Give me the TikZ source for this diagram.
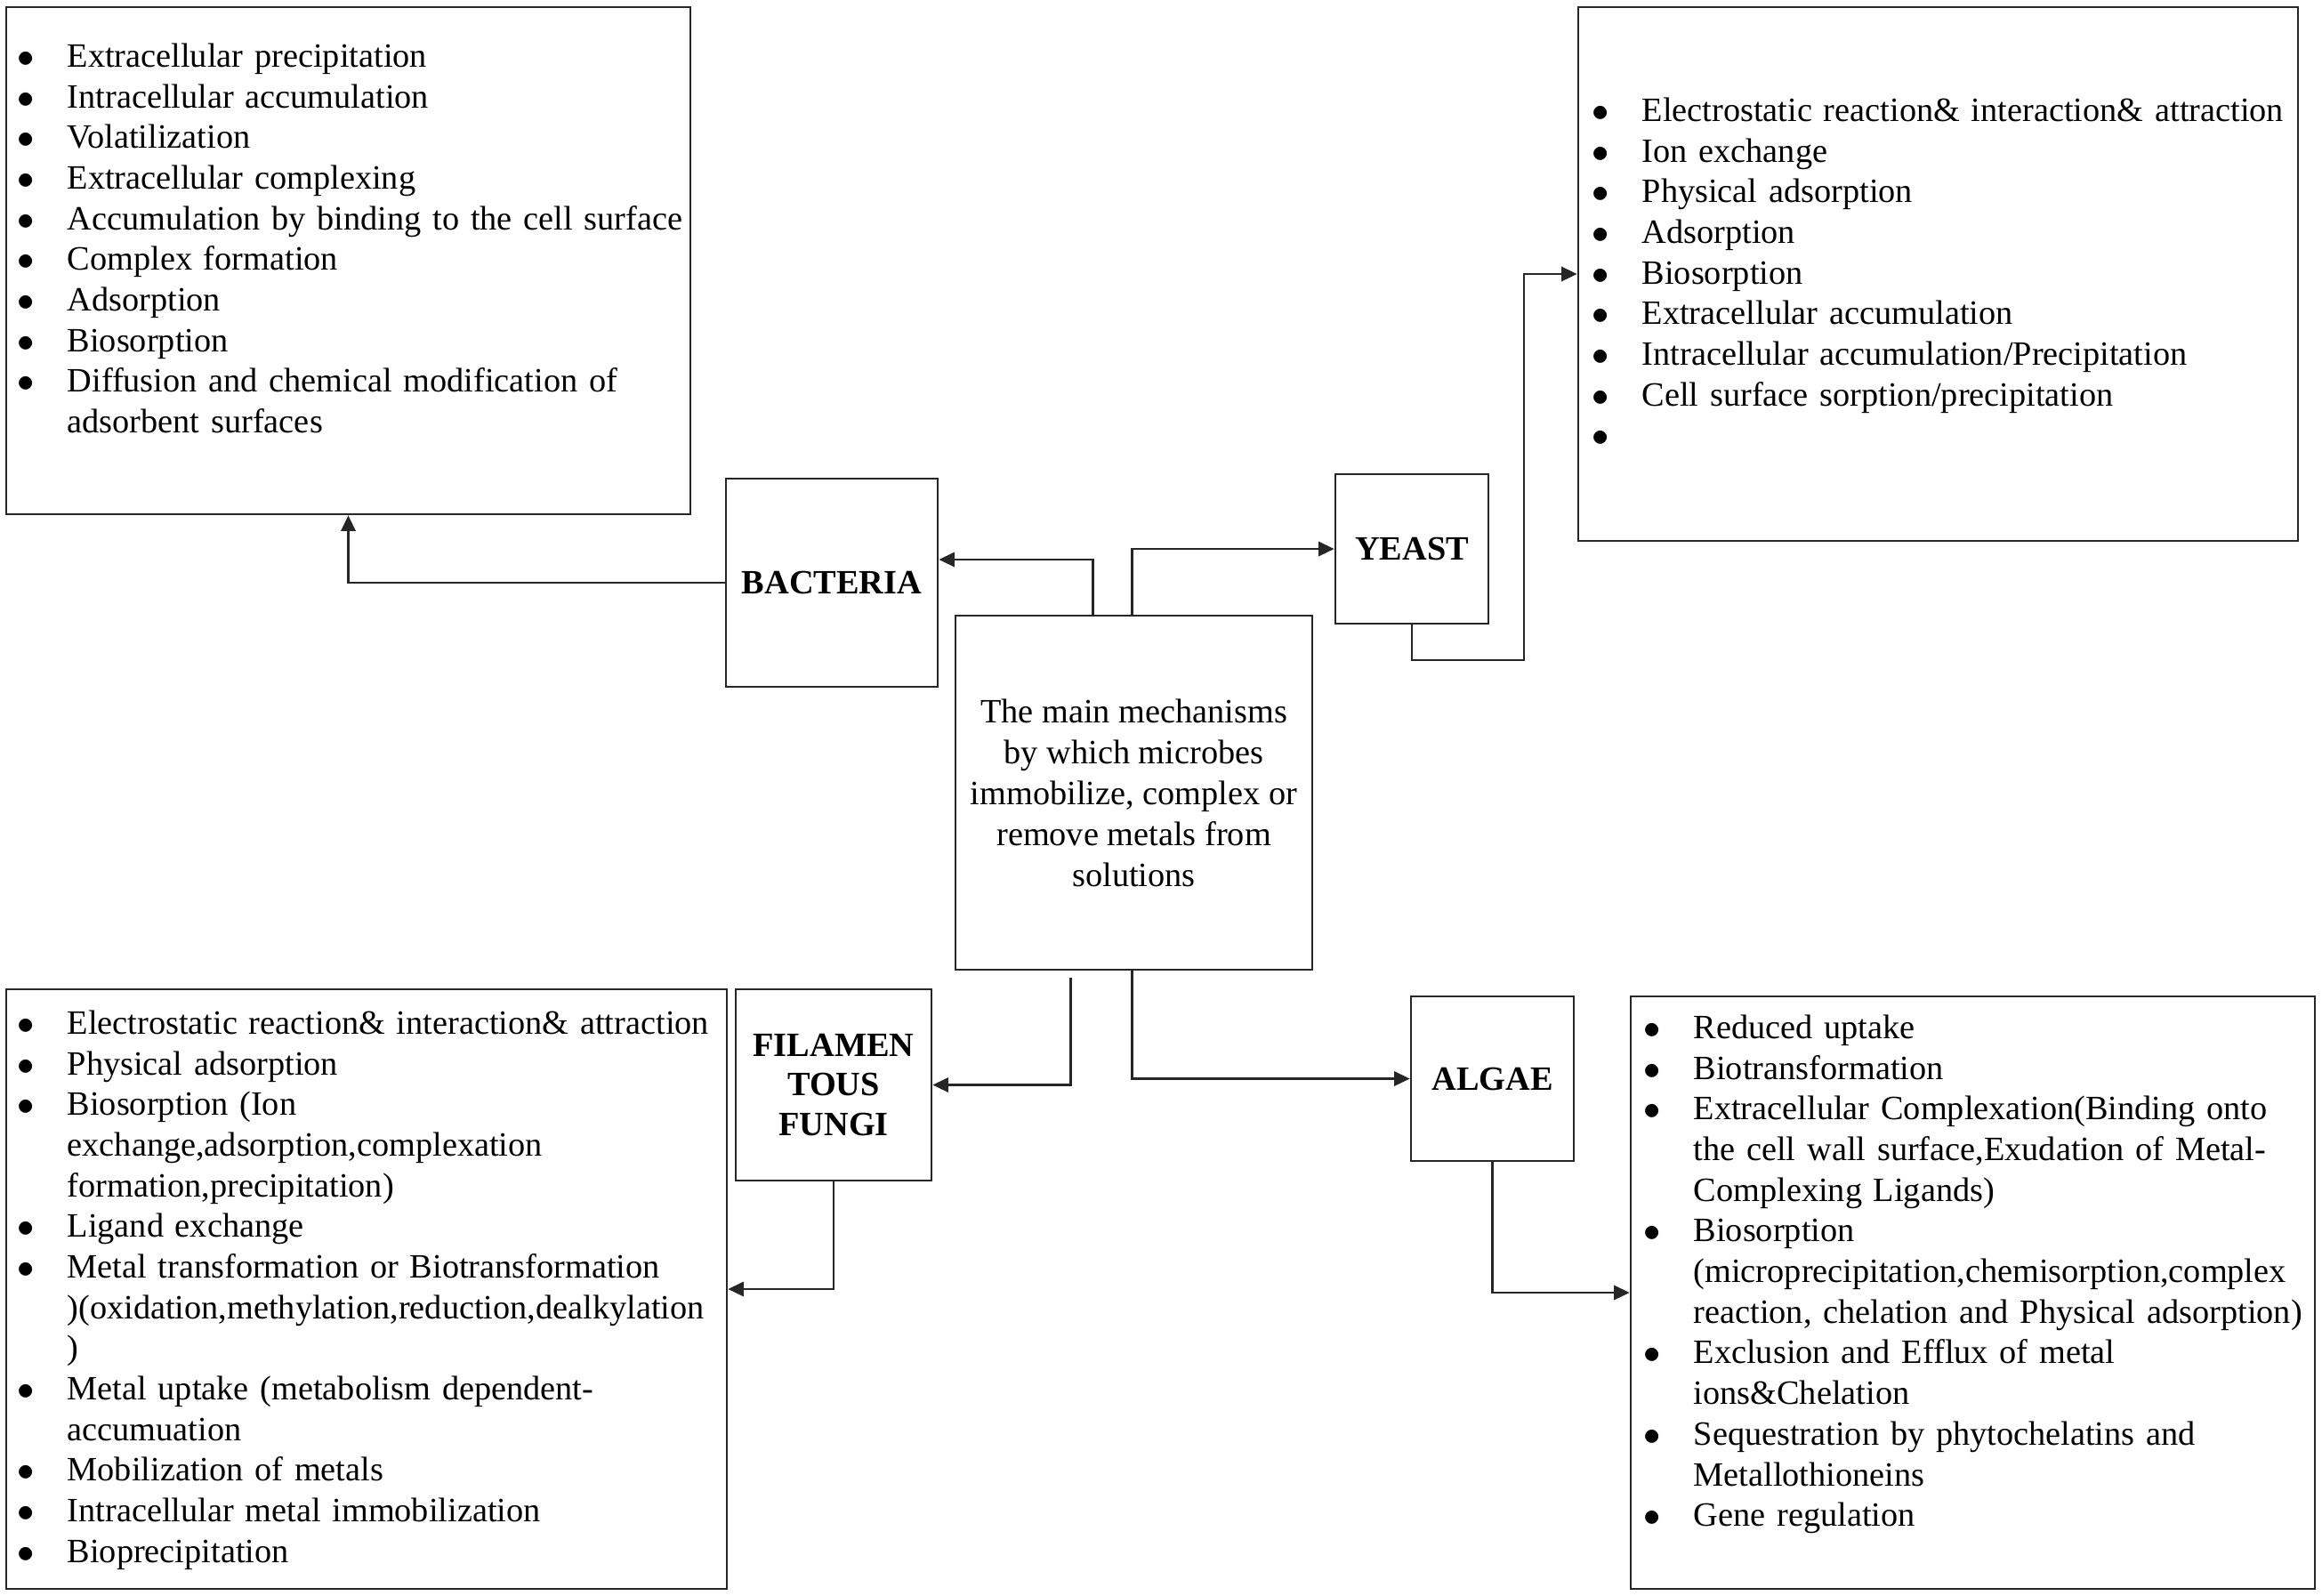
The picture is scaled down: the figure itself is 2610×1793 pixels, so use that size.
\documentclass[tikz,border=0pt]{standalone}
\usepackage{fontspec}
\setmainfont{Liberation Serif}
\usetikzlibrary{arrows.meta,calc,positioning}

% bullet list used inside the text boxes
\newenvironment{mechlist}{%
  \begin{list}{$\bullet$}{%
    \setlength{\leftmargin}{5.6mm}\setlength{\labelwidth}{5.6mm}%
    \setlength{\labelsep}{0pt}\setlength{\itemsep}{0pt}%
    \setlength{\parsep}{0pt}\setlength{\topsep}{0pt}\setlength{\partopsep}{0pt}%
    \renewcommand{\makelabel}[1]{##1\hfil}}}%
  {\end{list}}

\begin{document}
\begin{tikzpicture}[x=0.1mm, y=-0.1mm,
    box/.style={draw=black!85, line width=0.75pt, rectangle, inner sep=0pt,
      font=\fontsize{10.9}{12.8}\selectfont\bfseries, align=center},
    listbox/.style={draw=black!85, line width=0.75pt, rectangle, inner sep=0pt},
    listtext/.style={inner sep=0pt, anchor=north west, align=left,
      font=\fontsize{10.9}{13}\selectfont},
    arr/.style={draw=black!85, line width=0.75pt, -{Triangle[length=5pt,width=4.6pt]}}]
    \useasboundingbox (0,0) rectangle (2610,1793);

    % Centre box
    \node[box, font=\fontsize{10.9}{13.1}\selectfont, minimum width=40.1mm, minimum height=39.8mm]
        (main) at (1274.5,891) {The main mechanisms\\by which microbes\\immobilize, complex or\\remove metals from\\solutions};

    % Organisms
    \node[box, minimum width=23.8mm, minimum height=23.4mm] (bact) at (935,655) {BACTERIA};
    \node[box, minimum width=17.2mm, minimum height=16.8mm] (yeast) at (1587,617) {YEAST};
    \node[box, minimum width=22.0mm, minimum height=21.5mm] (fungi) at (937,1219.5) {FILAMEN\\TOUS\\FUNGI};
    \node[box, minimum width=18.3mm, minimum height=18.5mm] (algae) at (1677.5,1212.5) {ALGAE};

    % List boxes
    \node[listbox, minimum width=76.9mm, minimum height=57.0mm] (bactlist) at (391.5,293) {};
    \node[listbox, minimum width=80.9mm, minimum height=60.0mm] (yeastlist) at (2178.5,308) {};
    \node[listbox, minimum width=81.0mm, minimum height=67.4mm] (fungilist) at (412,1449) {};
    \node[listbox, minimum width=76.9mm, minimum height=66.6mm] (algaelist) at (2217.5,1453) {};

    % Bacteria mechanisms
    \node[listtext, text width=76mm] (bacttext) at (19,29) {%
      \begin{mechlist}
        \item Extracellular precipitation
        \item Intracellular accumulation
        \item Volatilization
        \item Extracellular complexing
        \item Accumulation by binding to the cell surface
        \item Complex formation
        \item Adsorption
        \item Biosorption
        \item Diffusion and chemical modification of\newline adsorbent surfaces
      \end{mechlist}};

    % Yeast mechanisms
    \node[listtext, text width=78mm] (yeasttext) at (1789,90) {%
      \begin{mechlist}
        \item Electrostatic reaction\& interaction\& attraction
        \item Ion exchange
        \item Physical adsorption
        \item Adsorption
        \item Biosorption
        \item Extracellular accumulation
        \item Intracellular accumulation/Precipitation
        \item Cell surface sorption/precipitation
        \item \mbox{}
      \end{mechlist}};

    % Fungi mechanisms
    \node[listtext, text width=78mm] (fungitext) at (19,1116) {%
      \begin{mechlist}
        \item Electrostatic reaction\& interaction\& attraction
        \item Physical adsorption
        \item Biosorption (Ion\newline exchange,adsorption,complexation\newline formation,precipitation)
        \item Ligand exchange
        \item Metal transformation or Biotransformation\newline )(oxidation,methylation,reduction,dealkylation\newline )
        \item Metal uptake (metabolism dependent-\newline accumuation
        \item Mobilization of metals
        \item Intracellular metal immobilization
        \item Bioprecipitation
      \end{mechlist}};

    % Algae mechanisms
    \node[listtext, text width=76mm] (algaetext) at (1847,1121) {%
      \begin{mechlist}
        \item Reduced uptake
        \item Biotransformation
        \item Extracellular Complexation(Binding onto\newline the cell wall surface,Exudation of Metal-\newline Complexing Ligands)
        \item Biosorption\newline (microprecipitation,chemisorption,complex\newline reaction, chelation and Physical adsorption)
        \item Exclusion and Efflux of metal\newline ions\&Chelation
        \item Sequestration by phytochelatins and\newline Metallothioneins
        \item Gene regulation
      \end{mechlist}};

    % Connectors
    \draw[arr] ($(main.north)+(-46,0)$) |- ($(bact.east)+(0,-26)$);
    \draw[arr] ($(main.north)+(-2,0)$) |- (yeast.west);
    \draw[arr] ($(main.south)+(-71,8)$) |- (fungi.east);
    \draw[arr] ($(main.south)+(-2,0)$) |- (algae.west);
    \draw[arr] (bact.west) -| (bactlist.south);
    \coordinate (ybend) at (1713,742);
    \draw[arr] (yeast.south) |- (ybend) |- (yeastlist.west);
    \draw[arr] (fungi.south) |- (fungilist.east);
    \draw[arr] (algae.south) |- (algaelist.west);
\end{tikzpicture}
\end{document}
